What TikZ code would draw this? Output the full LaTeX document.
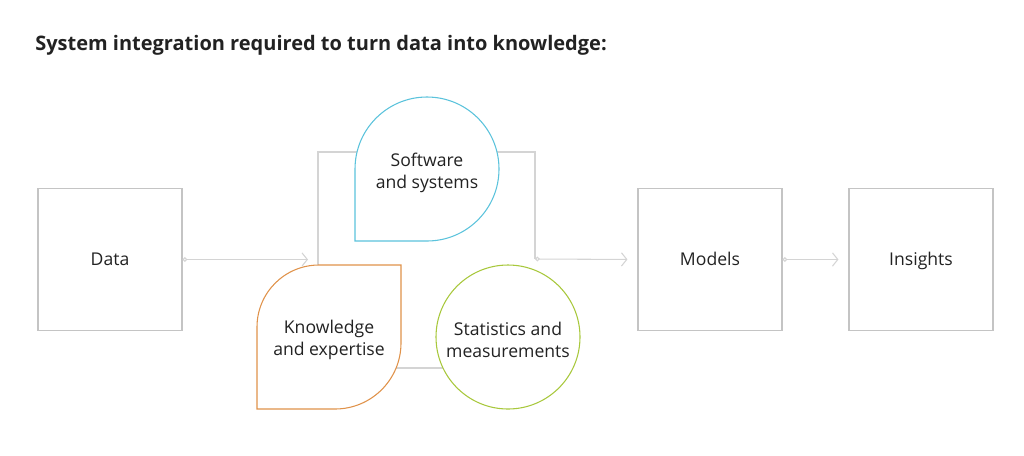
\documentclass[tikz,border=0pt]{standalone}
\usepackage{fontspec}
\setmainfont{Open Sans}
\usetikzlibrary{arrows.meta,positioning}
\definecolor{boxgray}{HTML}{C4C4C4}
\definecolor{linkgray}{HTML}{D4D4D4}
\definecolor{softblue}{HTML}{5BC3DC}
\definecolor{knoworange}{HTML}{E0924A}
\definecolor{statgreen}{HTML}{A8C83C}
\definecolor{inktext}{HTML}{222222}
\tikzset{
  stage/.style={draw=boxgray,line width=0.8pt,minimum width=108pt,minimum height=107pt,inner sep=0pt,text height=11pt,text depth=1.5pt,font=\fontsize{13.2}{17}\selectfont,text=inktext},
  petal/.style={line width=0.8pt,fill=white},
  label/.style={align=center,font=\fontsize{13.2}{17}\selectfont,text=inktext},
  frame/.style={draw=linkgray,line width=0.8pt},
  flow/.style={{Circle[open,length=3.5pt,fill=white]}-{Straight Barb[length=4pt,width=10pt]},draw=linkgray,line width=0.8pt,shorten >=7.5pt},
}
\begin{document}
\begin{tikzpicture}[x=0.75pt,y=-0.75pt]
  \useasboundingbox (0,0) rectangle (1024,455);
  % title
  \node[anchor=base west,inner sep=0pt,font=\fontsize{15}{18}\selectfont\bfseries,text=inktext] (title) at (35,50) {System integration required to turn data into knowledge:};
  % stages
  \node[stage] (data) at (110,259.5) {Data};
  \node[stage] (models) at (710,259.5) {Models};
  \node[stage] (insights) at (921,259.5) {Insights};
  % frame behind the three parts
  \coordinate (fl) at (318,265);
  \coordinate (fr) at (535,259);
  \draw[frame] (fl) -- (318,152) -- (380,152);
  \draw[frame] (470,152) -- (535,152) -- (fr);
  \draw[frame] (380,368) -- (470,368);
  % software and systems
  \draw[petal,draw=softblue] (355,241) -- (355,169) arc[start angle=180,end angle=-90,radius=54pt] -- cycle;
  \node[label] (soft) at (427,173) {Software\\and systems};
  % knowledge and expertise
  \draw[petal,draw=knoworange] (401,265) -- (319,265) arc[start angle=90,end angle=180,radius=46.5pt] -- (257,409) -- (335,409) arc[start angle=-90,end angle=0,radius=49.5pt] -- cycle;
  \node[label] (know) at (329,340) {Knowledge\\and expertise};
  % statistics and measurements
  \draw[petal,draw=statgreen] (508,337) circle[radius=54pt];
  \node[label] (stat) at (508,340) {Statistics and\\measurements};
  % flow
  \draw[flow] (data.east) -- (data.east -| fl);
  \draw[flow] (fr) -- (models.west);
  \draw[flow] (models.east) -- (insights.west);
\end{tikzpicture}
\end{document}
